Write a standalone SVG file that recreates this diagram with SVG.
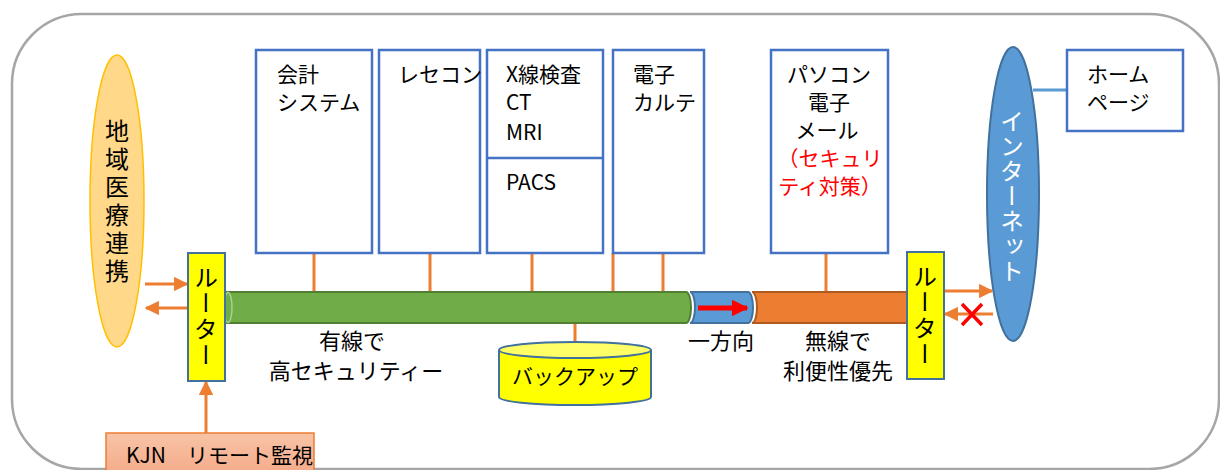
<svg xmlns="http://www.w3.org/2000/svg" width="1220" height="470" viewBox="0 0 1220 470">
<style>
text{font-family:"Noto Sans CJK JP","Noto Sans",sans-serif;font-size:21px;fill:#000}
.box{fill:#fff;stroke:#4472C4;stroke-width:2.5}
.con{stroke:#ED7D31;stroke-width:3;fill:none}
.router{fill:#FFFF00;stroke:#41719C;stroke-width:2}
.vt{writing-mode:vertical-rl;text-anchor:middle;font-size:24px}
.red{fill:#FF0000}
.lbl{text-anchor:middle;font-size:22px}
</style>
<defs>
<marker id="ah" viewBox="0 0 10 10" refX="9" refY="5" markerWidth="4.8" markerHeight="4.8" orient="auto-start-reverse">
<path d="M0,0 L10,5 L0,10 z" fill="#ED7D31"/>
</marker>
<marker id="rah" viewBox="0 0 10 10" refX="9" refY="5" markerWidth="3.4" markerHeight="3.4" orient="auto">
<path d="M0,0 L10,5 L0,10 z" fill="#FF0000"/>
</marker>
<linearGradient id="kjn" x1="0" y1="0" x2="0" y2="1">
<stop offset="0" stop-color="#F8C4A6"/>
<stop offset="1" stop-color="#F4A887"/>
</linearGradient>
</defs>

<rect x="12" y="14" width="1207" height="455" rx="70" fill="#fff" stroke="#A6A6A6" stroke-width="2.5"/>

<g id="connectors">
<line class="con" x1="314" y1="253" x2="314" y2="292"/>
<line class="con" x1="430" y1="253" x2="430" y2="292"/>
<line class="con" x1="532" y1="253" x2="532" y2="292"/>
<line class="con" x1="613" y1="253" x2="613" y2="292"/>
<line class="con" x1="663" y1="253" x2="663" y2="292"/>
<line class="con" x1="826" y1="253" x2="826" y2="292"/>
<line class="con" x1="575" y1="323" x2="575" y2="343"/>
<line class="con" x1="145" y1="284" x2="187" y2="284" marker-end="url(#ah)"/>
<line class="con" x1="188" y1="308" x2="146" y2="308" marker-end="url(#ah)"/>
<line class="con" x1="206" y1="433" x2="206" y2="382" marker-end="url(#ah)"/>
<line class="con" x1="944" y1="291" x2="992" y2="291" marker-end="url(#ah)"/>
<line class="con" x1="993" y1="314" x2="945" y2="314" marker-end="url(#ah)"/>
<path d="M962,304 L982,325 M982,304 L962,325" stroke="#FF0000" stroke-width="3.5" fill="none"/>
<line x1="1033" y1="90" x2="1067" y2="90" stroke="#5B9BD5" stroke-width="3"/>
</g>

<g id="bus">
<path d="M226,292 L686,292 A5,15.5 0 0 1 686,323 L226,323 Z" fill="#70AD47" stroke="#507E32" stroke-width="2"/>
<ellipse cx="228" cy="307.5" rx="4" ry="15" fill="#70AD47" stroke="#A9D18E" stroke-width="1.5"/>
<path d="M690,292 L748,292 A5,15.5 0 0 1 748,323 L690,323 A5,15.5 0 0 0 690,292 Z" fill="#5B9BD5" stroke="#41719C" stroke-width="2"/>
<line x1="698" y1="308" x2="747" y2="308" stroke="#FF0000" stroke-width="5" marker-end="url(#rah)"/>
<path d="M752,292 L907,292 A5,15.5 0 0 1 907,323 L752,323 A5,15.5 0 0 0 752,292 Z" fill="#ED7D31" stroke="#AE5A21" stroke-width="2"/>
</g>

<g id="chiiki">
<ellipse cx="117" cy="201" rx="27" ry="146" fill="#FFD88A" stroke="#FFC000" stroke-width="1.5"/>
<text class="vt" x="117" y="203" letter-spacing="4">地域医療連携</text>
</g>

<g id="router-left">
<rect class="router" x="188" y="253" width="37" height="128"/>
<text class="vt" x="206" y="317" letter-spacing="2">ルーター</text>
</g>

<g id="kjn">
<rect x="106" y="433" width="208" height="45" fill="url(#kjn)" stroke="#ED7D31" stroke-width="1.5"/>
<text x="126" y="463" font-size="19">KJN　リモート監視</text>
</g>

<g id="kaikei">
<rect class="box" x="256" y="50" width="116" height="203"/>
<text x="277" y="82">会計</text>
<text x="277" y="110">システム</text>
</g>

<g id="resecon">
<rect class="box" x="379" y="50" width="101" height="203"/>
<text x="398" y="82">レセコン</text>
</g>

<g id="xray">
<rect class="box" x="487" y="50" width="116" height="203"/>
<line x1="487" y1="158" x2="603" y2="158" stroke="#4472C4" stroke-width="2.5"/>
<text x="506" y="82">X線検査</text>
<text x="506" y="110">CT</text>
<text x="506" y="140">MRI</text>
<text x="506" y="190">PACS</text>
</g>

<g id="karte">
<rect class="box" x="613" y="50" width="91" height="203"/>
<text x="633" y="82">電子</text>
<text x="633" y="110">カルテ</text>
</g>

<g id="pc">
<rect class="box" x="771" y="50" width="117" height="203"/>
<text x="829" y="82" text-anchor="middle">パソコン</text>
<text x="829" y="110" text-anchor="middle">電子</text>
<text x="827" y="138" text-anchor="middle">メール</text>
<text class="red" x="830" y="166" text-anchor="middle">（セキュリ</text>
<text class="red" x="830" y="194" text-anchor="middle">ティ対策）</text>
</g>

<g id="router-right">
<rect class="router" x="907" y="252" width="37" height="127"/>
<text class="vt" x="925" y="316" letter-spacing="2">ルーター</text>
</g>

<g id="internet">
<ellipse cx="1013" cy="194" rx="26" ry="147" fill="#5B9BD5" stroke="#41719C" stroke-width="2"/>
<text class="vt" x="1012" y="196" letter-spacing="1" style="fill:#fff">インターネット</text>
</g>

<g id="homepage">
<rect class="box" x="1067" y="50" width="116" height="81"/>
<text x="1087" y="82">ホーム</text>
<text x="1087" y="110">ページ</text>
</g>

<g id="backup">
<path d="M499,350 L499,397 A76,8 0 0 0 651,397 L651,350" fill="#FFFF00" stroke="#41719C" stroke-width="2"/>
<ellipse cx="575" cy="350" rx="76" ry="8" fill="#FFFF66" stroke="#41719C" stroke-width="2"/>
<text x="575" y="384" text-anchor="middle" font-size="18">バックアップ</text>
</g>

<g id="labels">
<text class="lbl" x="352" y="349">有線で</text>
<text class="lbl" x="356" y="379">高セキュリティー</text>
<text class="lbl" x="721" y="349">一方向</text>
<text class="lbl" x="838" y="349">無線で</text>
<text class="lbl" x="838" y="379">利便性優先</text>
</g>
</svg>
